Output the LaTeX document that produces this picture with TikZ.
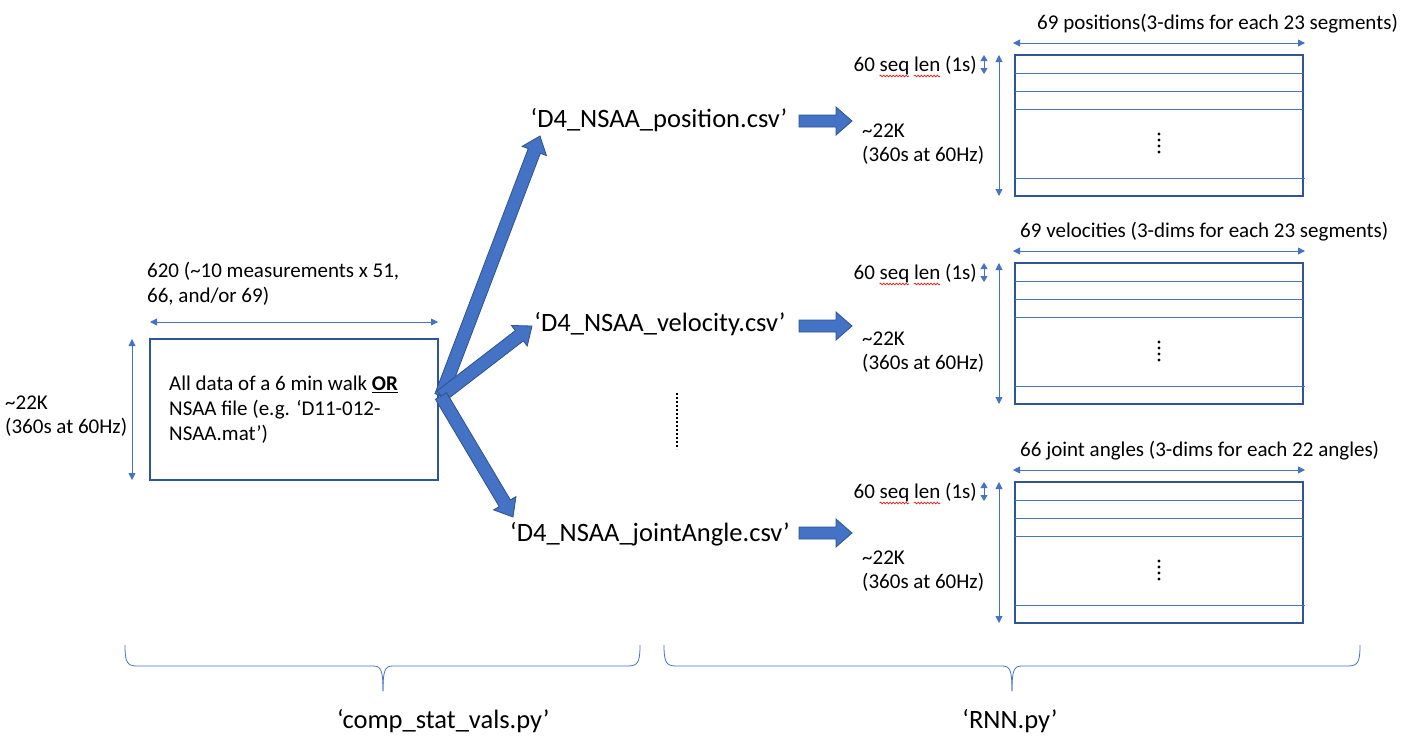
\documentclass[tikz,border=0pt]{standalone}
\usepackage{fontspec}
\setmainfont{Carlito}
\usetikzlibrary{arrows.meta,calc,decorations.pathmorphing}
\definecolor{accent}{HTML}{4472C4}
\definecolor{boxblue}{HTML}{2F5597}
\definecolor{fatborder}{HTML}{2F528F}
\definecolor{squigred}{HTML}{E02020}
\newlength\wpre \newlength\wseq \newlength\wseqsp \newlength\wlen
\newcommand\fatarrow[5]{% from, to, half shaft, half head, head length
  \coordinate (fad) at ($(#2)!#5!(#1)$);
  \filldraw[fat] ($(#1)!#3!90:(#2)$) -- ($(fad)!#3!-90:(#1)$) -- ($(fad)!#4!-90:(#1)$) -- (#2)
     -- ($(fad)!#4!90:(#1)$) -- ($(fad)!#3!90:(#1)$) -- ($(#1)!#3!-90:(#2)$) -- cycle;
}
\newcommand\boxdots[1]{%
  \foreach \k in {0,1,2,3}{\fill ([yshift=-79pt-6pt*\k]#1.north) circle (1.6pt);}
}
\begin{document}
\settowidth{\wpre}{\fontsize{21}{24}\selectfont 60 }%
\settowidth{\wseq}{\fontsize{21}{24}\selectfont seq}%
\settowidth{\wseqsp}{\fontsize{21}{24}\selectfont seq }%
\settowidth{\wlen}{\fontsize{21}{24}\selectfont len}%
\begin{tikzpicture}[x=1pt,y=-1pt,
  txt/.style={inner sep=0pt, font=\fontsize{21}{25}\selectfont},
  small/.style={inner sep=0pt, font=\fontsize{21}{24}\selectfont},
  bigl/.style={inner sep=0pt, font=\fontsize{26.5}{31}\selectfont},
  dimarrow/.style={draw=accent, line width=0.8pt, {Triangle[length=7pt,width=7pt]}-{Triangle[length=7pt,width=7pt]}},
  tinyarrow/.style={draw=accent, line width=0.8pt, {Triangle[length=6pt,width=7pt]}-{Triangle[length=6pt,width=7pt]}},
  gridbox/.style={draw=boxblue, line width=1.8pt, outer sep=0pt, minimum width=288pt, minimum height=141pt, anchor=north west},
  rowline/.style={draw=accent, line width=0.8pt},
  fat/.style={fill=accent, draw=fatborder, line width=0.8pt},
  brace/.style={draw=accent, line width=0.8pt},
  squig/.style={draw=squigred, line width=0.7pt, decorate, decoration={snake, amplitude=0.9pt, segment length=3.2pt}}
]
\useasboundingbox (0,0) rectangle (1425,745);

% ---------- left source box ----------
\node[gridbox, minimum height=141pt] (src) at (150,339) {};
\node[txt, anchor=west, align=left] (srctext) at (169,410)
  {All data of a 6 min walk \underline{\textbf{OR}}\\NSAA file (e.g. ‘D11-012-\\NSAA.mat’)};
\node[txt, anchor=west, align=left] (srcwidth) at (147,284)
  {620 (\textasciitilde10 measurements x 51,\\66, and/or 69)};
\node[small, anchor=west, align=left] (srcheight) at (5,416)
  {\textasciitilde22K\\(360s at 60Hz)};
\draw[dimarrow] ([yshift=17pt]src.north west) -- ([yshift=17pt]src.north east);
\draw[dimarrow] ([xshift=-18pt]src.north west) -- ([xshift=-18pt]src.south west);

% ---------- csv labels ----------
\node[bigl] (fpos) at (659,120) {‘D4\_NSAA\_position.csv’};
\node[bigl] (fvel) at (660,324) {‘D4\_NSAA\_velocity.csv’};
\node[bigl] (fjoint) at (650,534) {‘D4\_NSAA\_jointAngle.csv’};

\coordinate (o) at (441,396);
\coordinate (tpos) at (540,136);
\coordinate (tvel) at (532,326);
\coordinate (tjoint) at (513,517);
\fatarrow{o}{tpos}{6.5pt}{13pt}{16pt}
\fatarrow{o}{tvel}{6.5pt}{13pt}{16pt}
\fatarrow{o}{tjoint}{6.5pt}{13pt}{16pt}

\coordinate (dotA) at (677,393);
\coordinate (dotB) at (677,449);
\draw[line width=2.8pt, dash pattern=on 2.2pt off 1.8pt] (dotA) -- (dotB);

% ---------- right arrows ----------
\coordinate (ra1) at (799,121); \coordinate (rb1) at (852,121);
\coordinate (ra2) at (799,326); \coordinate (rb2) at (852,326);
\coordinate (ra3) at (799,533); \coordinate (rb3) at (852,533);
\fatarrow{ra1}{rb1}{6pt}{14pt}{16pt}
\fatarrow{ra2}{rb2}{6pt}{14pt}{16pt}
\fatarrow{ra3}{rb3}{6pt}{14pt}{16pt}

% ---------- right grid boxes ----------
\foreach \name/\top/\ttl/\tx in {b1/55/69 positions(3-dims for each 23 segments)/1037,
                                 b2/263/69 velocities (3-dims for each 23 segments)/1020,
                                 b3/482/66 joint angles (3-dims for each 22 angles)/1020}{
  \node[gridbox] (\name) at (1015,\top) {};
  \foreach \r in {18,36,54}{
    \draw[rowline] ([yshift=-\r pt]\name.north west) -- ([yshift=-\r pt]\name.north east);
  }
  \draw[rowline] ([yshift=-123pt]\name.north west) -- ([yshift=-123pt,xshift=2pt]\name.north east);
  \boxdots{\name}
  \draw[dimarrow] ([yshift=12pt,xshift=-2pt]\name.north west) -- ([yshift=12pt,xshift=2pt]\name.north east);
  \draw[dimarrow] ([xshift=-16pt]\name.north west) -- ([xshift=-16pt]\name.south west);
  \draw[tinyarrow] ([xshift=-31pt]\name.north west) -- ([xshift=-31pt,yshift=-19pt]\name.north west);
  \node[small, anchor=west] (\name-title) at (\tx,\top-31) {\ttl};
  \node[small, anchor=east] (\name-seq) at (977,\top+11) {60 seq len (1s)};
  \coordinate (\name-sqA) at ([xshift=\wpre,yshift=-4pt]\name-seq.base west);
  \coordinate (\name-sqB) at ([xshift=\wpre+\wseqsp,yshift=-4pt]\name-seq.base west);
  \draw[squig] (\name-sqA) -- ([xshift=\wseq]\name-sqA);
  \draw[squig] (\name-sqB) -- ([xshift=\wlen]\name-sqB);
  \node[small, anchor=west, align=left] (\name-h) at (862,\top+89) {\textasciitilde22K\\(360s at 60Hz)};
}

% ---------- braces ----------
\draw[brace] (125,645) .. controls (125,662) and (127,666) .. (137,666) -- (373,666)
  .. controls (381,666) and (383,670) .. (383,691);
\draw[brace] (383,691) .. controls (383,670) and (385,666) .. (393,666) -- (628,666)
  .. controls (638,666) and (640,662) .. (640,645);
\draw[brace] (664,645) .. controls (664,662) and (666,666) .. (676,666) -- (1002,666)
  .. controls (1010,666) and (1012,670) .. (1012,691);
\draw[brace] (1012,691) .. controls (1012,670) and (1014,666) .. (1022,666) -- (1348,666)
  .. controls (1358,666) and (1360,662) .. (1360,645);
\node[bigl, anchor=west] (lcomp) at (337,721) {‘comp\_stat\_vals.py’};
\node[bigl] (lrnn) at (1010,721) {‘RNN.py’};
\end{tikzpicture}
\end{document}
